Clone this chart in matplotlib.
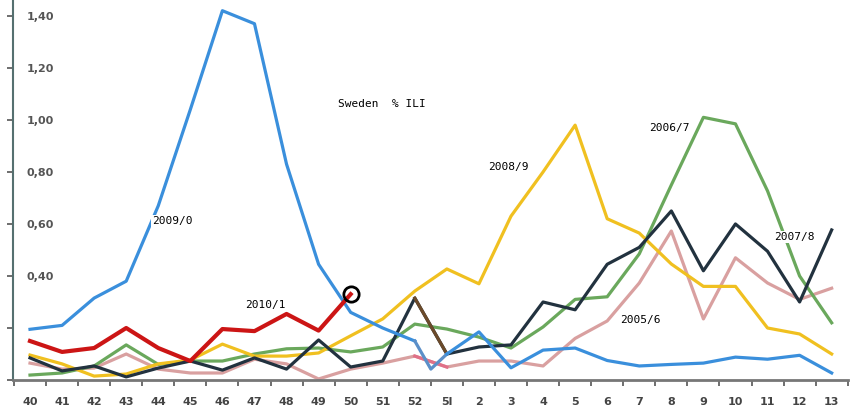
import numpy as np
import matplotlib
matplotlib.use('Agg')
import matplotlib.pyplot as plt

weeks = ['40', '41', '42', '43', '44', '45', '46', '47', '48', '49', '50', '51', '52',
         '5l', '2', '3', '4', '5', '6', '7', '8', '9', '10', '11', '12', '13']

s2005 = [0.065, 0.042, 0.046, 0.10, 0.042, 0.027, 0.027, 0.08, 0.062, 0.004, 0.042, 0.065, 0.092,
         0.05, 0.073, 0.073, 0.054, 0.16, 0.227, 0.373, 0.573, 0.235, 0.47, 0.373, 0.31, 0.353]
s2006 = [0.019, 0.027, 0.054, 0.135, 0.06, 0.073, 0.073, 0.10, 0.12, 0.123, 0.108, 0.127, 0.215,
         0.196, 0.165, 0.123, 0.204, 0.31, 0.32, 0.485, 0.75, 1.01, 0.985, 0.727, 0.40, 0.22]
s2007 = [0.085, 0.035, 0.054, 0.012, 0.046, 0.073, 0.038, 0.085, 0.042, 0.154, 0.05, 0.073, 0.315,
         0.10, 0.127, 0.135, 0.30, 0.27, 0.445, 0.51, 0.65, 0.42, 0.60, 0.495, 0.30, 0.577]
s2008 = [0.096, 0.062, 0.015, 0.023, 0.062, 0.077, 0.138, 0.092, 0.092, 0.104, 0.17, 0.235, 0.342,
         0.427, 0.37, 0.63, 0.80, 0.98, 0.62, 0.565, 0.446, 0.36, 0.36, 0.20, 0.177, 0.10]
# pandemic season has an extra week between 52 and 5l
x2009 = [0, 1, 2, 3, 4, 5, 6, 7, 8, 9, 10, 11, 12, 12.5,
         13, 14, 15, 16, 17, 18, 19, 20, 21, 22, 23, 24, 25]
s2009 = [0.195, 0.21, 0.315, 0.38, 0.67, 1.04, 1.42, 1.37, 0.83, 0.445, 0.26, 0.20, 0.15, 0.042,
         0.10, 0.185, 0.047, 0.115, 0.123, 0.075, 0.054, 0.06, 0.065, 0.088, 0.08, 0.095, 0.027]
s2010 = [0.15, 0.108, 0.123, 0.20, 0.123, 0.073, 0.196, 0.188, 0.254, 0.19, 0.33]

labels = [('Sweden  % ILI', 9.6, 1.06), ('2009/0', 3.8, 0.61), ('2010/1', 6.7, 0.29),
          ('2008/9', 14.3, 0.82), ('2006/7', 19.3, 0.97), ('2007/8', 23.2, 0.55),
          ('2005/6', 18.4, 0.23)]

x = np.arange(len(weeks))

fig = plt.figure(figsize=(8.5, 4.2), dpi=100)
ax = fig.add_axes([0.0153, 0.0952, 0.982, 0.905])

lw = 2.3
ax.plot(x, s2005, color='#d9a0a0', lw=lw)
ax.plot(x[12:14], s2005[12:14], color='#e07088', lw=lw)
ax.plot(x, s2006, color='#6aa85c', lw=lw)
ax.plot(x, s2008, color='#f0c020', lw=lw)
ax.plot(x, s2007, color='#22323f', lw=lw)
ax.plot(x[12:14], s2007[12:14], color='#6b4a2a', lw=lw)
ax.plot(x2009[:13], s2009[:13], color='#3a8fdc', lw=lw)
ax.plot(x2009[12:15], s2009[12:15], color='#5b8fc8', lw=lw)
ax.plot(x2009[14:], s2009[14:], color='#3a8fdc', lw=lw)
ax.plot(x[:len(s2010)], s2010, color='#cc1515', lw=3)
ax.plot(x[len(s2010) - 1], s2010[-1], 'o', ms=11, mfc='none', mec='black', mew=2)

for txt, tx, ty in labels:
    ax.text(tx, ty, txt, family='DejaVu Sans Mono', fontsize=8, color='black',
            ha='left', va='center',
            bbox=dict(facecolor='white', edgecolor='none', pad=1) if txt != 'Sweden  % ILI' else None)

ax.set_xlim(-0.53, 25.5)
ax.set_ylim(0, 1.4615)

ax.set_xticks(x)
ax.set_xticklabels(weeks)
ax.set_xticks(np.arange(-0.5, 25.6, 1), minor=True)
ax.tick_params(axis='x', which='major', length=0, pad=12, labelsize=8, labelcolor='#444444')
ax.tick_params(axis='x', which='minor', length=4, width=1.2, color='#555555', direction='out')

yt = np.arange(0, 1.41, 0.2)
ax.set_yticks(yt)
ax.set_yticklabels(['', ''] + ['{:.2f}'.format(v).replace('.', ',') for v in yt[2:]])
ax.tick_params(axis='y', length=4, width=1.2, color='#555555', direction='out',
               pad=-14, labelsize=8, labelcolor='#555555')
for t in ax.get_yticklabels():
    t.set_horizontalalignment('left')
    t.set_fontweight('bold')
for t in ax.get_xticklabels():
    t.set_fontweight('bold')

for side in ['top', 'right']:
    ax.spines[side].set_visible(False)
ax.spines['left'].set_color('#557070')
ax.spines['left'].set_linewidth(1.5)
ax.spines['bottom'].set_color('#777777')
ax.spines['bottom'].set_linewidth(2)

plt.savefig('out.png', dpi=100)
